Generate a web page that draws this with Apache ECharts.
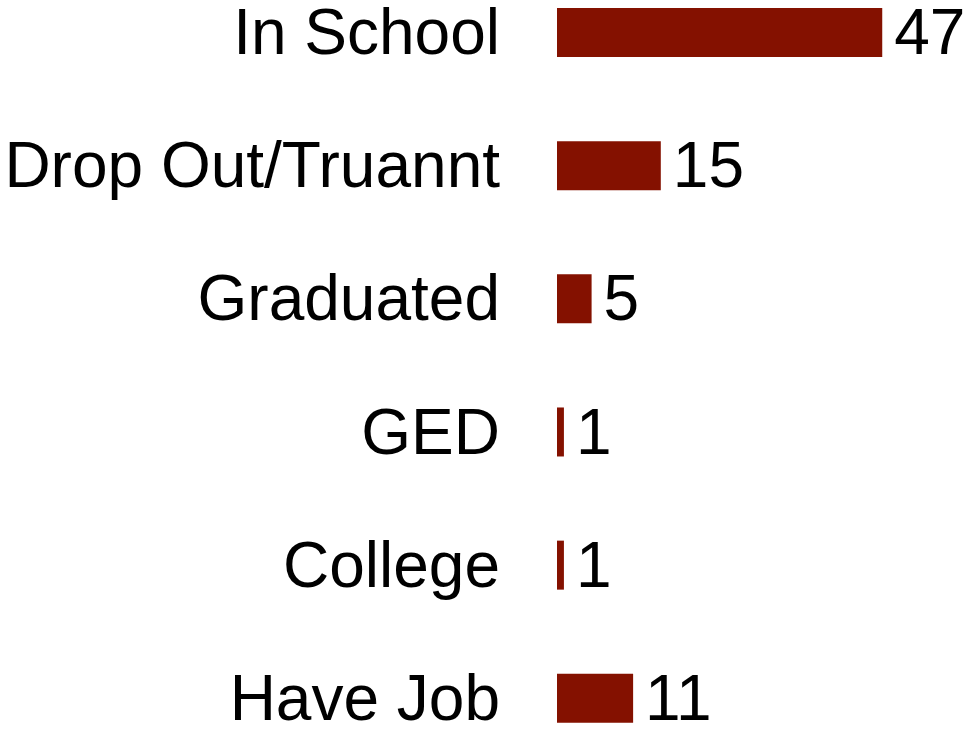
<!DOCTYPE html>
<html><head><meta charset="utf-8">
<script src="https://cdn.jsdelivr.net/npm/echarts@6/dist/echarts.min.js"></script>
<style>html,body{margin:0;padding:0;background:#fff}#c{width:965px;height:730px}</style>
</head><body><div id="c"></div>
<script>
var categories = ["In School", "Drop Out/Truannt", "Graduated", "GED", "College", "Have Job"];
var values = [47, 15, 5, 1, 1, 11];
var font = "Liberation Sans, Arial, Helvetica, sans-serif";
var chart = echarts.init(document.getElementById('c'), null, {renderer: 'canvas'});
chart.setOption({
  animation: false,
  grid: {left: 557, right: 62, top: 32.5, bottom: 31.7, containLabel: false, outerBoundsMode: 'none'},
  xAxis: {type: 'value', min: 0, max: 50, show: false},
  yAxis: {
    type: 'category', data: categories, inverse: true, boundaryGap: false,
    axisLine: {show: false}, axisTick: {show: false}, splitLine: {show: false},
    axisLabel: {color: '#000', fontSize: 64, fontFamily: font, margin: 57,
      verticalAlign: 'top', lineHeight: 8}
  },
  series: [{
    type: 'bar', data: values, barWidth: 49,
    itemStyle: {color: '#841100'},
    label: {show: true, position: 'right', distance: 12, color: '#000', fontSize: 64, fontFamily: font, offset: [0, 4]}
  }]
});
</script></body></html>
